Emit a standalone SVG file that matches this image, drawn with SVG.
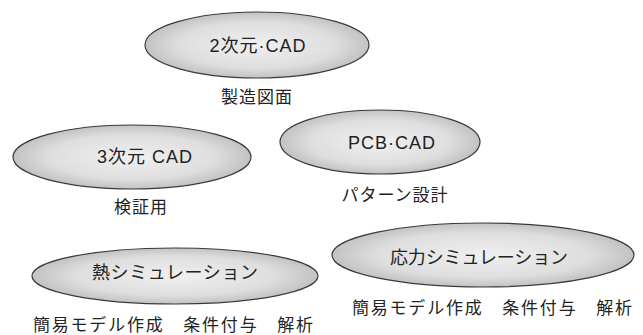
<svg xmlns="http://www.w3.org/2000/svg" width="643" height="335" viewBox="0 0 643 335">
<defs>
<radialGradient id="g" cx="50%" cy="50%" r="50%">
<stop offset="0" stop-color="#f0f0f0"/>
<stop offset="0.7" stop-color="#dedede"/>
<stop offset="1" stop-color="#c2c2c2"/>
</radialGradient>
<style>
.e{fill:url(#g);stroke:#3a3a3a;stroke-width:1.2}
.t{font-family:"Liberation Sans","Noto Sans CJK JP",sans-serif;font-size:18px;fill:#222;text-anchor:middle;dominant-baseline:central}
.l{font-family:"Liberation Sans","Noto Sans CJK JP",sans-serif;font-size:17px;fill:#222;text-anchor:middle;dominant-baseline:central}
</style>
</defs>
<g id="cad2d">
<ellipse class="e" cx="257" cy="45" rx="112" ry="33"/>
<text class="t" x="258" y="46" letter-spacing="1">2次元·CAD</text>
<text class="l" x="257" y="97" letter-spacing="1">製造図面</text>
</g>
<g id="cad3d">
<ellipse class="e" cx="132" cy="157" rx="119" ry="32"/>
<text class="t" x="145" y="157" letter-spacing="1">3次元 CAD</text>
<text class="l" x="141" y="207" letter-spacing="1">検証用</text>
</g>
<g id="pcbcad">
<ellipse class="e" cx="380" cy="142" rx="100" ry="32"/>
<text class="t" x="392" y="143" letter-spacing="1">PCB·CAD</text>
<text class="l" x="395" y="195" letter-spacing="1">パターン設計</text>
</g>
<g id="thermal">
<ellipse class="e" cx="175" cy="276" rx="143" ry="28"/>
<text class="t" x="175" y="273" textLength="166" lengthAdjust="spacing">熱シミュレーション</text>
<text class="l" x="173" y="325" textLength="280" lengthAdjust="spacing">簡易モデル作成　条件付与　解析</text>
</g>
<g id="stress">
<ellipse class="e" cx="483" cy="255" rx="151" ry="32"/>
<text class="t" x="479" y="258" textLength="178" lengthAdjust="spacing">応力シミュレーション</text>
<text class="l" x="492" y="308" textLength="280" lengthAdjust="spacing">簡易モデル作成　条件付与　解析</text>
</g>
<g id="connectors"></g>
</svg>
